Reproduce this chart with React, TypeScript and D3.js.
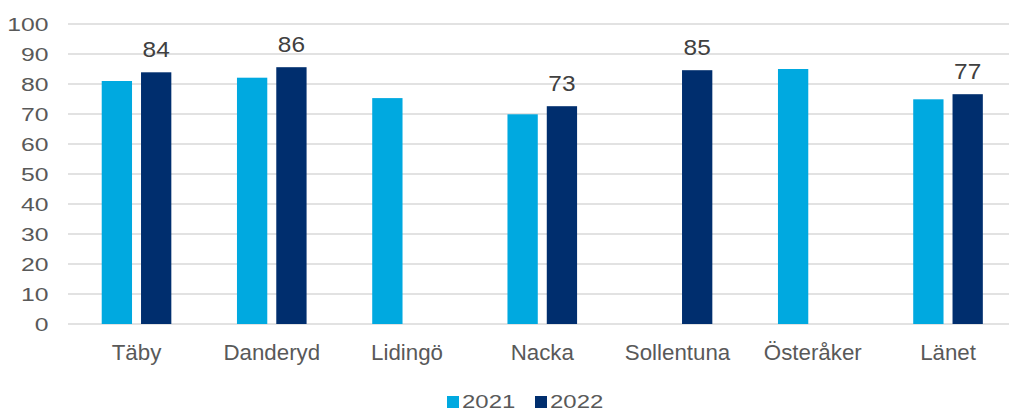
import React from "react";
import * as d3 from "d3";

const categories = ["Täby", "Danderyd", "Lidingö", "Nacka", "Sollentuna", "Österåker", "Länet"];
const series2021: (number | null)[] = [81, 82.1, 75.3, 69.9, null, 85, 74.9];
const series2022: (number | null)[] = [83.9, 85.6, null, 72.6, 84.6, null, 76.6];
const dataLabels2022: (string | null)[] = ["84", "86", null, "73", "85", null, "77"];
const seriesNames = ["2021", "2022"];
const yTicks = [0, 10, 20, 30, 40, 50, 60, 70, 80, 90, 100];

const W = 1009;
const H = 412;
const COLORS = ["#00A9E0", "#002E6E"];

export default function App() {
  const x = d3.scaleBand<string>().domain(categories).range([68.9, 68.9 + 7 * 135.25]).paddingInner(0).paddingOuter(0);
  const xs = d3.scaleBand<string>().domain(seriesNames).range([0, x.bandwidth()]).paddingInner(0.229).paddingOuter(0.835);
  const y = d3.scaleLinear().domain([0, 100]).range([324, 24]);
  const allSeries = [series2021, series2022];

  return (
    <svg width={W} height={H} style={{ position: "absolute", left: 0, top: 0, fontFamily: "'Liberation Sans', Arial, sans-serif" }}>
      <rect x={0} y={0} width={W} height={H} fill="#fff" />
      {yTicks.map((t) => (
        <g key={t}>
          <line x1={68} x2={W} y1={y(t)} y2={y(t)} stroke="#D9D9D9" strokeWidth={1.5} />
          <g transform={`translate(48.5,${y(t)}) scale(1.33,1)`}>
            <text textAnchor="end" dy="0.36em" fontSize={18.6} fill="#595959">{t}</text>
          </g>
        </g>
      ))}
      {allSeries.map((s, si) =>
        s.map((v, ci) =>
          v == null ? null : (
            <rect
              key={`${si}-${ci}`}
              x={(x(categories[ci]) as number) + (xs(seriesNames[si]) as number)}
              y={y(v)}
              width={xs.bandwidth()}
              height={y(0) - y(v)}
              fill={COLORS[si]}
            />
          )
        )
      )}
      {series2022.map((v, ci) =>
        v == null || dataLabels2022[ci] == null ? null : (
          <g key={`lbl-${ci}`} transform={`translate(${(x(categories[ci]) as number) + (xs("2022") as number) + xs.bandwidth() / 2},${y(v) - 15}) scale(1.12,1)`}>
            <text textAnchor="middle" fontSize={21.8} fill="#404040">{dataLabels2022[ci]}</text>
          </g>
        )
      )}
      {categories.map((c) => (
        <text key={c} x={(x(c) as number) + x.bandwidth() / 2} y={360} textAnchor="middle" fontSize={22.3} fill="#595959">{c}</text>
      ))}
      {seriesNames.map((n, i) => {
        const lx = i === 0 ? 447 : 535;
        return (
          <g key={n}>
            <rect x={lx} y={396} width={12} height={12} fill={COLORS[i]} />
            <g transform={`translate(${lx + 15},408) scale(1.26,1)`}>
              <text fontSize={19} fill="#595959">{n}</text>
            </g>
          </g>
        );
      })}
    </svg>
  );
}
